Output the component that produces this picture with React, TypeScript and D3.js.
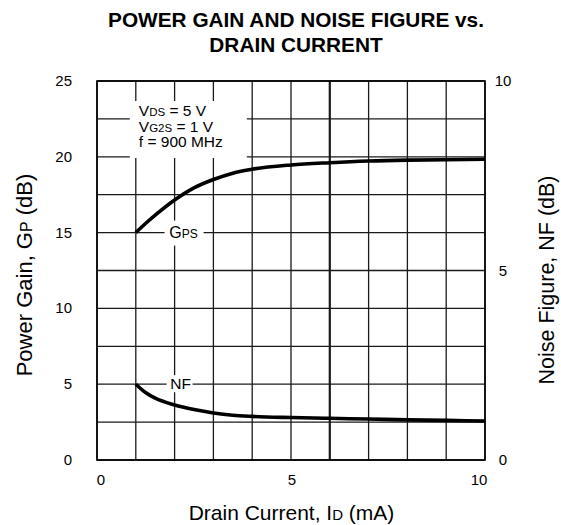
import React from 'react';
import * as d3 from 'd3';

// Data
const currentMA = [1, 1.25, 1.5, 2, 2.5, 3, 3.5, 4, 5, 6, 7, 8, 9, 10];
const gainDb = [15, 15.6, 16.15, 17.15, 17.95, 18.5, 18.92, 19.18, 19.46, 19.61, 19.72, 19.78, 19.81, 19.84];
const noiseDb = [2.0, 1.78, 1.63, 1.45, 1.33, 1.24, 1.18, 1.15, 1.12, 1.1, 1.08, 1.06, 1.045, 1.03];
const xTicks = [0, 5, 10];
const leftTicks = [0, 5, 10, 15, 20, 25];
const rightTicks = [0, 5, 10];
const titleLines = ['POWER GAIN AND NOISE FIGURE vs.', 'DRAIN CURRENT'];
const conditions = [
  ['V', 'DS', ' = 5 V'],
  ['V', 'G2S', ' = 1 V'],
  ['f = 900 MHz', '', ''],
];

const W = 561;
const H = 525;
const FONT = "'Liberation Sans', Arial, Helvetica, sans-serif";

export default function App() {
  const x = d3.scaleLinear().domain([0, 10]).range([97, 485]);
  const yL = d3.scaleLinear().domain([0, 25]).range([460, 81]);
  const yR = d3.scaleLinear().domain([0, 10]).range([460, 81]);

  const gridX = d3.range(0, 10.001, 1);
  const gridY = d3.range(0, 25.001, 2.5);

  const gainLine = d3
    .line<number>()
    .x((_, i) => x(currentMA[i]))
    .y((d) => yL(d))
    .curve(d3.curveMonotoneX);
  const noiseLine = d3
    .line<number>()
    .x((_, i) => x(currentMA[i]))
    .y((d) => yR(d))
    .curve(d3.curveMonotoneX);

  const legX = x(1) + 3;

  return (
    <svg
      width={W}
      height={H}
      style={{ position: 'absolute', left: 0, top: 0, background: '#fff' }}
      fontFamily={FONT}
    >
      <rect x={0} y={0} width={W} height={H} fill="#fff" />
      {/* Title */}
      <text x={296} y={27} textAnchor="middle" fontSize={20.8} fontWeight="bold" fill="#000">
        {titleLines[0]}
      </text>
      <text x={296} y={52} textAnchor="middle" fontSize={20.8} fontWeight="bold" fill="#000">
        {titleLines[1]}
      </text>

      {/* Grid */}
      {gridX.map((v) => (
        <line
          key={'gx' + v}
          x1={x(v)}
          x2={x(v)}
          y1={yL(0)}
          y2={yL(25)}
          stroke="#1a1a1a"
          strokeWidth={v === 6 ? 2.2 : 1.3}
        />
      ))}
      {gridY.map((v) => (
        <line
          key={'gy' + v}
          x1={x(0)}
          x2={x(10)}
          y1={yL(v)}
          y2={yL(v)}
          stroke="#1a1a1a"
          strokeWidth={1.3}
        />
      ))}
      <rect
        x={x(0)}
        y={yL(25)}
        width={x(10) - x(0)}
        height={yL(0) - yL(25)}
        fill="none"
        stroke="#000"
        strokeWidth={1.6}
      />

      {/* Conditions box */}
      <rect x={legX - 9} y={yL(25) + 20} width={117} height={57} fill="#fff" />
      {conditions.map((c, i) => (
        <text key={'c' + i} x={legX} y={116 + i * 15.5} fontSize={15.5} fill="#000">
          {c[0]}
          {c[1] && <tspan fontSize={11.5}>{c[1]}</tspan>}
          {c[2]}
        </text>
      ))}

      {/* Curves */}
      <path d={gainLine(gainDb) || ''} fill="none" stroke="#000" strokeWidth={3.6} strokeLinecap="butt" />
      <path d={noiseLine(noiseDb) || ''} fill="none" stroke="#000" strokeWidth={3.6} strokeLinecap="butt" />

      {/* Curve labels */}
      <rect x={x(2) - 10} y={yL(15) - 12} width={39} height={25} fill="#fff" />
      <text x={x(2) + 9} y={yL(15) + 5.5} textAnchor="middle" fontSize={16} fill="#000">
        G<tspan fontSize={12}>PS</tspan>
      </text>
      <rect x={x(2) - 8} y={yR(2) - 9} width={26} height={17} fill="#fff" />
      <text x={x(2) + 6} y={yR(2) + 4.5} textAnchor="middle" fontSize={15.5} fill="#000">
        NF
      </text>

      {/* Tick labels */}
      {xTicks.map((v) => (
        <text key={'xt' + v} x={x(v) + (v === 0 ? 4 : v === 10 ? -6 : 1)} y={485} textAnchor="middle" fontSize={15} fill="#000">
          {v}
        </text>
      ))}
      {leftTicks.map((v) => (
        <text key={'lt' + v} x={72} y={yL(v) + 5} textAnchor="end" fontSize={15} fill="#000">
          {v}
        </text>
      ))}
      {rightTicks.map((v) => (
        <text key={'rt' + v} x={503} y={yR(v) + 5} textAnchor="middle" fontSize={15} fill="#000">
          {v}
        </text>
      ))}

      {/* Axis titles */}
      <text x={291.5} y={520} textAnchor="middle" fontSize={21} fill="#000">
        Drain Current, I<tspan fontSize={15}>D</tspan> (mA)
      </text>
      <text
        transform={`translate(32, 275) rotate(-90)`}
        textAnchor="middle"
        fontSize={22}
        fill="#000"
      >
        Power Gain, G<tspan fontSize={16}>P</tspan> (dB)
      </text>
      <text
        transform={`translate(554, 280) rotate(-90)`}
        textAnchor="middle"
        fontSize={21.5}
        fill="#000"
      >
        Noise Figure, NF (dB)
      </text>
    </svg>
  );
}
